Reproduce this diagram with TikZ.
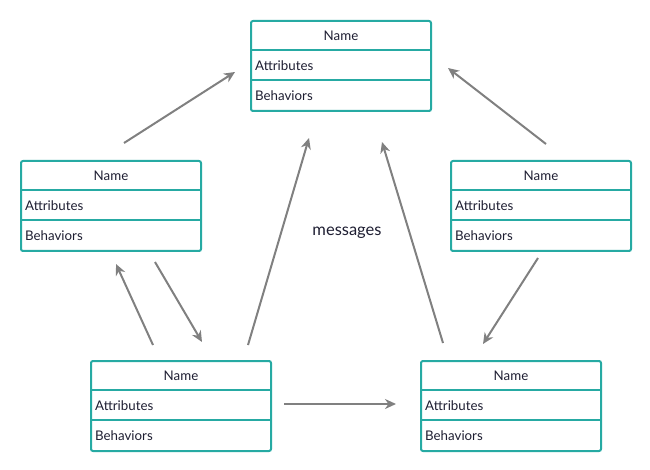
\documentclass[tikz,border=0pt]{standalone}
\usepackage{fontspec}
\setmainfont{Lato}
\usetikzlibrary{arrows.meta}
\definecolor{boxteal}{RGB}{38,170,163}
\definecolor{txtdark}{RGB}{30,30,50}
\definecolor{arrgray}{RGB}{128,128,128}
\tikzset{
  classbox/.style={draw=boxteal, line width=2pt, rounded corners=2pt, minimum width=180pt, minimum height=90pt, inner sep=0pt, anchor=north west},
  rowline/.style={draw=boxteal, line width=2pt},
  lbl/.style={font=\fontsize{13.3}{15}\selectfont, text=txtdark, inner sep=0pt},
  msg/.style={draw=arrgray, line width=2pt, -{Stealth[length=11pt,width=10pt,inset=3.5pt]}},
  msglbl/.style={font=\fontsize{16.5}{19}\selectfont, text=txtdark, inner sep=0pt}
}
\newcommand\umlclass[3]{%
  \node[classbox] (#1) at (#2,#3) {};
  \draw[rowline] ([yshift=-30pt]#1.north west) -- ([yshift=-30pt]#1.north east);
  \draw[rowline] ([yshift=-60pt]#1.north west) -- ([yshift=-60pt]#1.north east);
  \node[lbl] (#1-n) at ([yshift=-16pt]#1.north) {Name};
  \node[lbl, anchor=west] (#1-a) at ([xshift=5pt,yshift=-46pt]#1.north west) {Attributes};
  \node[lbl, anchor=west] (#1-b) at ([xshift=5pt,yshift=-76pt]#1.north west) {Behaviors};
}
\begin{document}
\begin{tikzpicture}[x=1pt,y=-1pt]
\useasboundingbox (0,0) rectangle (650,470);
\umlclass{top}{250}{20}
\umlclass{left}{20}{160}
\umlclass{right}{450}{160}
\umlclass{bl}{90}{360}
\umlclass{br}{420}{360}
\node[msglbl] (msgtxt) at (347,233) {messages};
\coordinate (a1s) at (124,143); \coordinate (a1e) at (235,72);
\coordinate (a2s) at (546,144); \coordinate (a2e) at (448,68);
\coordinate (a3s) at (155,262); \coordinate (a3e) at (202,342);
\coordinate (a4s) at (153,345); \coordinate (a4e) at (116,264);
\coordinate (a5s) at (248,345); \coordinate (a5e) at (309,138);
\coordinate (a6s) at (443,343); \coordinate (a6e) at (382,142);
\coordinate (a7s) at (538,258); \coordinate (a7e) at (483,344);
\coordinate (a8s) at (284,404); \coordinate (a8e) at (396,404);
\draw[msg] (a1s) -- (a1e);
\draw[msg] (a2s) -- (a2e);
\draw[msg] (a3s) -- (a3e);
\draw[msg] (a4s) -- (a4e);
\draw[msg] (a5s) -- (a5e);
\draw[msg] (a6s) -- (a6e);
\draw[msg] (a7s) -- (a7e);
\draw[msg] (a8s) -- (a8e);
\end{tikzpicture}
\end{document}
